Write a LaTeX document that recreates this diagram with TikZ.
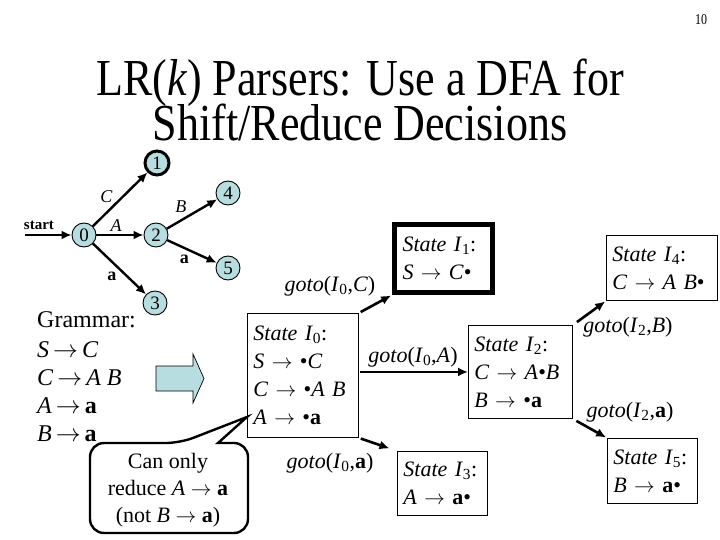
\documentclass[tikz,border=0pt]{standalone}
\usepackage{fontspec}
\setmainfont{Liberation Serif}
\usetikzlibrary{arrows.meta}
\definecolor{nodecyan}{RGB}{184,221,225}
\newcommand{\myto}{$\rightarrow$}
\tikzset{
  st/.style={circle, draw, line width=0.9pt, fill=nodecyan, minimum size=24pt, inner sep=0pt, font=\fontsize{19}{19}\selectfont},
  tr/.style={-{Latex[length=10pt,width=9pt]}, line width=2.4pt},
  gotoarr/.style={-{Latex[length=10pt,width=9pt]}, line width=2.6pt},
  lbl/.style={font=\fontsize{18}{18}\selectfont, inner sep=1pt},
  gram/.style={anchor=base west, inner sep=0pt, font=\fontsize{24}{29}\selectfont},
  sbox/.style={draw, line width=0.9pt, anchor=north west, align=left, inner xsep=6pt, inner ysep=2pt, font=\fontsize{22}{28}\selectfont},
  glbl/.style={font=\fontsize{22}{22}\selectfont, inner sep=0pt},
  ttl/.style={anchor=base, inner sep=0pt, font=\fontsize{44}{44}\selectfont},
}
\begin{document}
\begin{tikzpicture}[x=1pt,y=-1pt]
\useasboundingbox (0,0) rectangle (720,540);
% title
\node[inner sep=0pt, font=\fontsize{12}{12}\selectfont] (pg) at (701,20) {\scalebox{1}[1.25]{10}};
\node[ttl] (title) at (360,141) {\scalebox{1}[1.18]{\vbox{\lineskiplimit=-100pt\baselineskip=38.5pt
   \halign{\hfil#\hfil\cr LR(\textit{k}) Parsers: Use a DFA for\cr Shift/Reduce Decisions\cr}}}};
% DFA
\node[st] (n0) at (84,235) {0};
\node[st, line width=3pt] (n1) at (157,163) {1};
\node[st] (n2) at (156,235) {2};
\node[st] (n3) at (155,303) {3};
\node[st] (n4) at (228,193) {4};
\node[st] (n5) at (228,268) {5};
\coordinate (s0) at (25,235);
\draw[tr] (s0) -- (n0) node[pos=0.3, above=3pt, lbl, font=\bfseries\fontsize{15}{15}\selectfont] (lstart) {start};
\draw[tr] (n0) -- (n1) node[pos=0.4, above left=0pt, lbl] (lC) {\textit{C}};
\draw[tr] (n0) -- (n2) node[pos=0.42, above=1pt, lbl] (lA) {\textit{A}};
\draw[tr] (n0) -- (n3) node[midway, below left=1pt, lbl] (la1) {\textbf{a}};
\draw[tr] (n2) -- (n4) node[pos=0.45, above left=1pt, lbl] (lB) {\textit{B}};
\draw[tr] (n2) -- (n5) node[midway, below left=1pt, lbl] (la2) {\textbf{a}};
% grammar
\node[gram] (g0) at (37,327) {Grammar:};
\node[gram] (g1) at (37,357) {\textit{S}\,\myto\,\textit{C}};
\node[gram] (g2) at (37,385) {\textit{C}\,\myto\,\textit{A B}};
\node[gram] (g3) at (37,413) {\textit{A}\,\myto\,\textbf{a}};
\node[gram] (g4) at (37,441) {\textit{B}\,\myto\,\textbf{a}};
% block arrow
\draw[line width=0.7pt, fill=nodecyan] (156,366) -- (193,366) -- (193,354) -- (204,378.5) -- (193,403) -- (193,391) -- (156,391) -- cycle;
% states
\node[sbox, minimum width=111pt, minimum height=124pt, text width=99pt] (I0) at (247,313)
  {\textit{State I}\textsubscript{0}:\\ \textit{S} \myto{} \textbullet\textit{C}\\ \textit{C} \myto{} \textbullet\textit{A B}\\ \textit{A} \myto{} \textbullet\textbf{a}};
\node[sbox, line width=5pt, minimum width=98pt, minimum height=68pt, text width=82pt] (I1) at (392,222)
  {\textit{State I}\textsubscript{1}:\\ \textit{S} \myto{} \textit{C}\textbullet};
\node[sbox, minimum width=104pt, minimum height=93pt, text width=92pt] (I2) at (468,325)
  {\textit{State I}\textsubscript{2}:\\ \textit{C} \myto{} \textit{A}\textbullet\textit{B}\\ \textit{B} \myto{} \textbullet\textbf{a}};
\node[sbox, minimum width=90pt, minimum height=64pt, text width=78pt] (I3) at (397,451)
  {\textit{State I}\textsubscript{3}:\\ \textit{A} \myto{} \textbf{a}\textbullet};
\node[sbox, minimum width=111pt, minimum height=65pt, text width=99pt] (I4) at (606,235)
  {\textit{State I}\textsubscript{4}:\\ \textit{C} \myto{} \textit{A B}\textbullet};
\node[sbox, minimum width=90pt, minimum height=65pt, text width=78pt] (I5) at (607,438)
  {\textit{State I}\textsubscript{5}:\\ \textit{B} \myto{} \textbf{a}\textbullet};
% goto arrows
\draw[gotoarr, shorten <=2pt, shorten >=1pt] (I0.north east) -- (I1.south west);
\draw[gotoarr, shorten <=1pt] (I0.east |- I2.west) -- (I2.west);
\draw[gotoarr, shorten <=2pt, shorten >=8pt] (I0.south east) -- (I3.north west);
\draw[gotoarr, shorten <=5pt, shorten >=1pt] (I2.north east) -- (I4.south west);
\draw[gotoarr, shorten <=4pt, shorten >=1pt] (I2.south east) -- (I5.north west);
\node[glbl] (gC) at (330,286) {\textit{goto}(\textit{I}\textsubscript{0},\textit{C})};
\node[glbl] (gA) at (413,357) {\textit{goto}(\textit{I}\textsubscript{0},\textit{A})};
\node[glbl] (ga) at (330,463) {\textit{goto}(\textit{I}\textsubscript{0},\textbf{a})};
\node[glbl] (gB) at (628,327) {\textit{goto}(\textit{I}\textsubscript{2},\textit{B})};
\node[glbl] (ga2) at (630,412) {\textit{goto}(\textit{I}\textsubscript{2},\textbf{a})};
% callout
\coordinate (tip) at (247,417);
\draw[line width=2.4pt, fill=white, line join=miter] (90,488) [rounded corners=14pt] -- (90,443) -- (180,443) [sharp corners] -- (tip) -- (218,443) [rounded corners=14pt] -- (248,443) -- (248,533) -- (90,533) -- cycle;
\node[align=center, inner sep=0pt, font=\fontsize{22}{27}\selectfont] (call) at (168,490)
  {Can only\\ reduce \textit{A} \myto{} \textbf{a}\\ (not \textit{B} \myto{} \textbf{a})};
\end{tikzpicture}
\end{document}
